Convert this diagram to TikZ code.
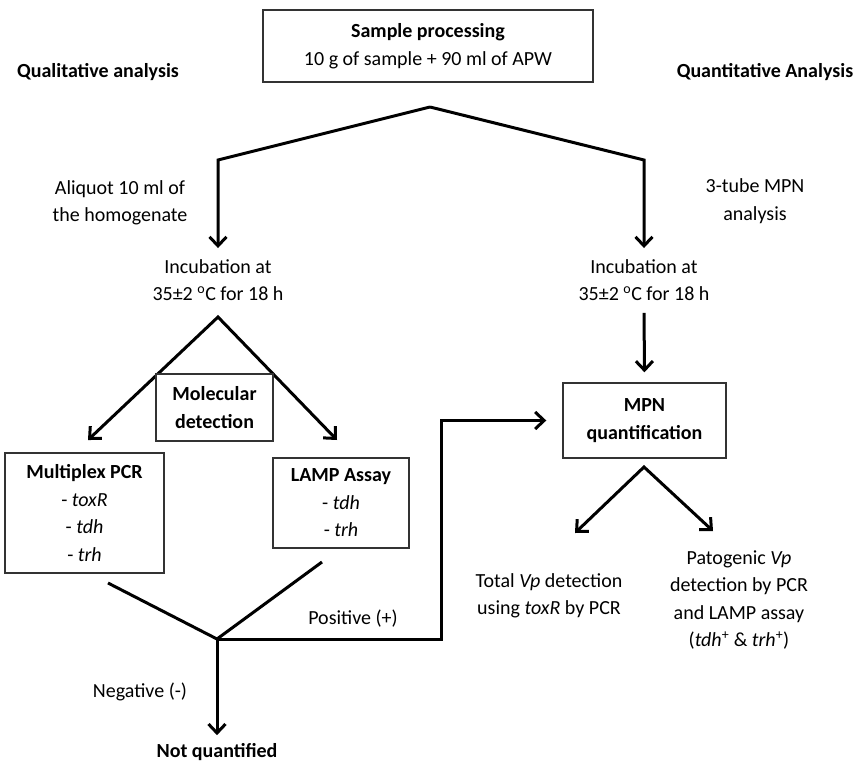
\documentclass[tikz,border=0pt]{standalone}
\usepackage{fontspec}
\setmainfont{Carlito}
\usetikzlibrary{arrows.meta}

\begin{document}
\begin{tikzpicture}[x=1pt, y=-1pt, >={Straight Barb[length=9pt,width=17pt]},
	every node/.style={font=\fontsize{20}{27.5}\selectfont, align=center, inner sep=0pt},
	box/.style={draw=black!80, line width=1.4pt, fill=white},
	lin/.style={line width=3pt, line join=miter},
	arr/.style={lin, ->}]
	\useasboundingbox (0,0) rectangle (857,765);
	\node[box, minimum width=330pt, minimum height=72pt] (sample) at (428,46) {\textbf{Sample processing}\\10 g of sample + 90 ml of APW};
	\node (quali) at (98,72) {\textbf{Qualitative analysis}};
	\node (quanti) at (765,72) {\textbf{Quantitative Analysis}};
	\coordinate (top) at (430,107);
	\coordinate (topL) at (218,160);
	\coordinate (topR) at (644,160);
	\node (aliquot) at (120,203) {Aliquot 10 ml of\\the homogenate};
	\node (tube) at (755,201) {3-tube MPN\\analysis};
	\node (incL) at (218,280) {Incubation at\\35±2 \textsuperscript{o}C for 18 h};
	\node (incR) at (644,280) {Incubation at\\35±2 \textsuperscript{o}C for 18 h};
	\draw[arr, shorten >=11pt] (top) -- (topL) -- (incL.north);
	\draw[arr, shorten >=11pt] (top) -- (topR) -- (incR.north);
	\coordinate (molTop) at (218,317);
	\coordinate (mpcrIn) at (88,440);
	\coordinate (lampIn) at (337,440);
	\draw[lin, <->] (mpcrIn) -- (molTop) -- (lampIn);
	\node[box, minimum width=117pt, minimum height=67pt] (mol) at (214.5,407.5) {\textbf{Molecular}\\\textbf{detection}};
	\node[box, minimum width=159pt, minimum height=120pt] (mpcr) at (84.5,513) {\textbf{Multiplex PCR}\\- \textit{toxR}\\- \textit{tdh}\\- \textit{trh}};
	\node[box, minimum width=136pt, minimum height=90pt] (lamp) at (341,503) {\textbf{LAMP Assay}\\- \textit{tdh}\\- \textit{trh}};
	\node[box, minimum width=163pt, minimum height=75pt] (mpn) at (644.5,420.5) {\textbf{MPN}\\\textbf{quantification}};
	\draw[arr, shorten <=12pt, shorten >=10pt] (incR.south) -- (mpn.north);
	\coordinate (vL) at (108,583);
	\coordinate (vR) at (322,562);
	\coordinate (vtx) at (217,639);
	\coordinate (turn) at (441,639);
	\draw[lin] (vL) -- (vtx) -- (vR);
	\draw[arr, shorten >=16pt] (vtx) -- (turn) |- (mpn.west);
	\node (pos) at (353,619) {Positive (+)};
	\node (neg) at (140,692) {Negative (-)};
	\node (notq) at (217,752) {\textbf{Not quantified}};
	\draw[arr, shorten >=8pt] (vtx) -- (notq.north);
	\coordinate (mpnTop) at (644,467);
	\coordinate (totIn) at (575,533);
	\coordinate (patIn) at (713,531);
	\draw[lin, <->] (totIn) -- (mpnTop) -- (patIn);
	\node (total) at (549,596) {Total \textit{Vp} detection\\using \textit{toxR} by PCR};
	\node (pato) at (739,600) {Patogenic \textit{Vp}\\detection by PCR\\and LAMP assay\\(\textit{tdh}\textsuperscript{+} \& \textit{trh}\textsuperscript{+})};
\end{tikzpicture}
\end{document}
